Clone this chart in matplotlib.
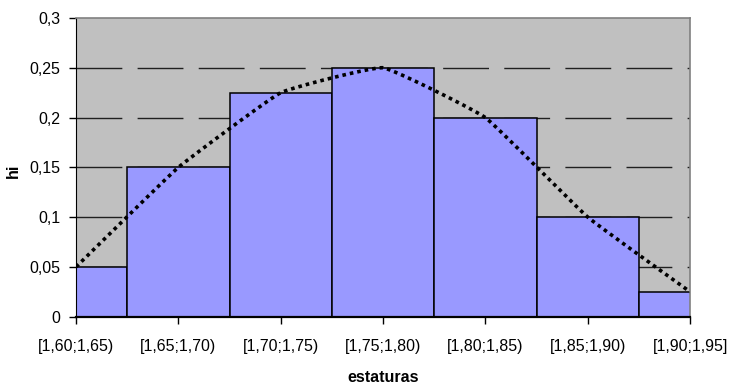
import matplotlib
matplotlib.use("Agg")
import matplotlib.pyplot as plt
import numpy as np

plt.rcParams['font.family'] = ['Liberation Sans', 'DejaVu Sans']

categorias = ['[1,60;1,65)', '[1,65;1,70)', '[1,70;1,75)', '[1,75;1,80)',
              '[1,80;1,85)', '[1,85;1,90)', '[1,90;1,95]']
hi = [0.05, 0.15, 0.225, 0.25, 0.2, 0.1, 0.025]
yticks = [0, 0.05, 0.1, 0.15, 0.2, 0.25, 0.3]
ytick_labels = ['0', '0,05', '0,1', '0,15', '0,2', '0,25', '0,3']


def suavizar(x, y, f=0.05, n=40):
    # linea suavizada (bezier con tension baja)
    px = np.concatenate([[x[0]], x, [x[-1]]])
    py = np.concatenate([[y[0]], y, [y[-1]]])
    xs, ys = [], []
    t = np.linspace(0, 1, n)
    for i in range(1, len(px) - 2):
        p0, p1, p2, p3 = [np.array([px[j], py[j]]) for j in range(i - 1, i + 3)]
        c1 = p1 + (p2 - p0) * f
        c2 = p2 - (p3 - p1) * f
        pts = ((1 - t) ** 3)[:, None] * p1 + (3 * (1 - t) ** 2 * t)[:, None] * c1 \
            + (3 * (1 - t) * t ** 2)[:, None] * c2 + (t ** 3)[:, None] * p2
        xs.extend(pts[:, 0])
        ys.extend(pts[:, 1])
    return np.array(xs), np.array(ys)


fig = plt.figure(figsize=(7.31, 3.87), dpi=100)
ax = fig.add_axes([0.104, 0.1817, 0.84, 0.7718])
ax.set_facecolor('#C0C0C0')

x = np.arange(len(categorias))
ax.bar(x, hi, width=1.0, color='#9999FF', edgecolor='black', linewidth=1.1, zorder=2)

sx, sy = suavizar(x.astype(float), np.array(hi))
ax.plot(sx, sy, color='black', linewidth=2.6, linestyle=(0, (1, 1.1)), zorder=3)

ax.set_xlim(0, len(categorias) - 1)
ax.set_ylim(0, 0.3)
ax.set_yticks(yticks)
ax.set_yticklabels(ytick_labels)
ax.set_xticks(x)
ax.set_xticklabels(categorias)

for v in yticks[1:-1]:
    ax.axhline(v, color='#202020', linewidth=1.0, linestyle=(0, (33, 11)), zorder=1)

ax.tick_params(axis='y', length=5, width=1, pad=6, labelsize=11.5, direction='out')
ax.tick_params(axis='x', length=5, width=1, pad=11, labelsize=11.5, direction='out')

for s in ['top', 'right']:
    ax.spines[s].set_color('#808080')
    ax.spines[s].set_linewidth(1.2)
ax.spines['left'].set_color('black')
ax.spines['bottom'].set_color('black')
ax.spines['bottom'].set_linewidth(1.6)
ax.spines['bottom'].set_zorder(4)

ax.set_xlabel('estaturas', fontsize=11.5, fontweight='bold')
ax.xaxis.set_label_coords(0.5, -0.18)
ax.set_ylabel('hi', fontsize=11.5, fontweight='bold')
ax.yaxis.set_label_coords(-0.09, 0.49)

fig.savefig('out.png', dpi=100)
